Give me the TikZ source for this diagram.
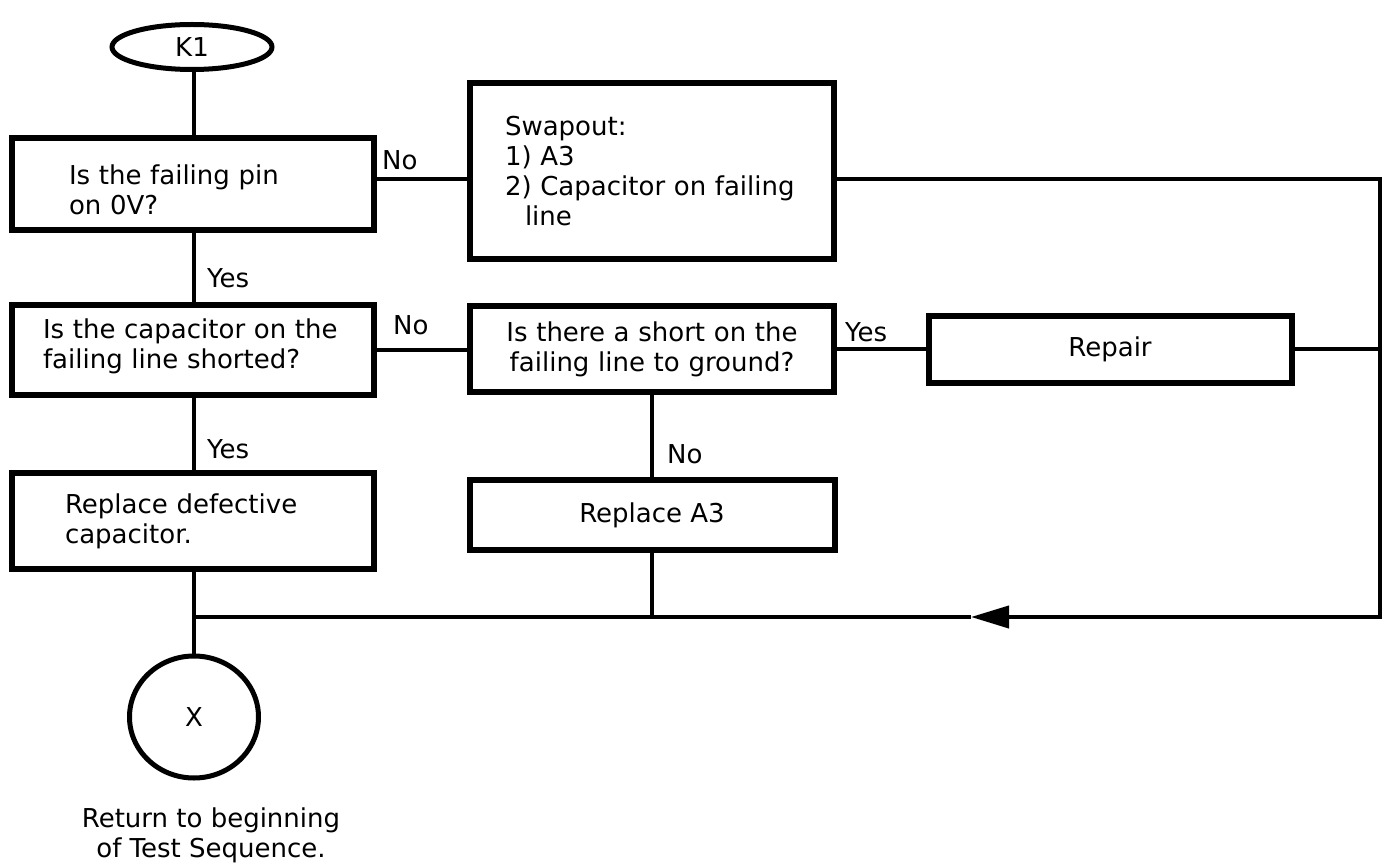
\documentclass[tikz,border=0pt]{standalone}
\usepackage{fontspec}
\setmainfont{DejaVu Sans}
\usetikzlibrary{arrows.meta,shapes.geometric}
\tikzset{
  txt/.style={font=\fontsize{26pt}{30pt}\selectfont, inner sep=0pt},
  box/.style={txt, draw, line width=6pt, rectangle},
  oval/.style={txt, draw, line width=5pt, ellipse, inner sep=0pt},
  conn/.style={line width=4pt},
  lbl/.style={txt, anchor=base west},
}
\begin{document}
\begin{tikzpicture}[x=1pt,y=-1pt]
\useasboundingbox (0,0) rectangle (1389,866);
% nodes
\node[oval, minimum width=160pt, minimum height=45pt] (k1) at (192,47) {K1};
\node[box, minimum width=362pt, minimum height=92pt, text width=248pt, align=left] (q1) at (193,184) {\rule{0pt}{32pt}Is the failing pin\\on 0V?};
\node[box, minimum width=364pt, minimum height=176pt, text width=294pt, align=left] (swap) at (652,171) {Swapout:\\1) A3\\2) Capacitor on failing\\\hspace*{20pt}line};
\node[box, minimum width=362pt, minimum height=90pt, text width=300pt, align=left] (q2) at (193,350) {Is the capacitor on the\\failing line shorted?\rule[-12pt]{0pt}{12pt}};
\node[box, minimum width=364pt, minimum height=86pt, text width=300pt, align=center] (q3) at (652,349) {Is there a short on the\\failing line to ground?};
\node[box, minimum width=363pt, minimum height=67pt] (repair) at (1110,349.5) {Repair};
\node[box, minimum width=362pt, minimum height=96pt, text width=256pt, align=left] (repcap) at (193,521) {Replace defective\\capacitor.};
\node[box, minimum width=365pt, minimum height=70pt] (repA3) at (652,515) {Replace A3};
\node[oval, minimum width=129pt, minimum height=122pt] (xc) at (194,717) {X};
\node[txt, align=center, anchor=north] (ret) at (211,808) {Return to beginning\\of Test Sequence.};
% labels
\node[lbl] (l1) at (382,170) {No};
\node[lbl] (l2) at (207,288) {Yes};
\node[lbl] (l3) at (393,335) {No};
\node[lbl] (l4) at (845,342) {Yes};
\node[lbl] (l5) at (207,458) {Yes};
\node[lbl] (l6) at (667,463) {No};
% coordinates
\coordinate (rc) at (1380,617);
\coordinate (atip) at (971,617);
\coordinate (jL) at (repcap.south |- rc);
\coordinate (spine) at (194,0);
% connectors
\draw[conn] (k1.south -| spine) -- (q1.north -| spine);
\draw[conn] ([yshift=5pt]q1.east) -- ([yshift=5pt]q1.east -| swap.west);
\draw[conn] (q1.south -| spine) -- (q2.north -| spine);
\draw[conn] (q2.east) -- (q2.east -| q3.west);
\draw[conn] (q3.east) -- (q3.east -| repair.west);
\draw[conn] (q2.south -| spine) -- (repcap.north -| spine);
\draw[conn] (q3.south) -- (repA3.north);
\draw[conn] (repA3.south) -- (repA3.south |- rc);
\draw[conn] (repair.east) -- (repair.east -| rc);
\draw[conn, -{Stealth[length=38pt,width=22pt,inset=0pt]}] ([yshift=-8pt]swap.east) -| (rc) -- (atip);
\draw[conn] (atip) -- (jL -| spine);
\draw[conn] (repcap.south -| spine) -- (xc.north);
\end{tikzpicture}
\end{document}
